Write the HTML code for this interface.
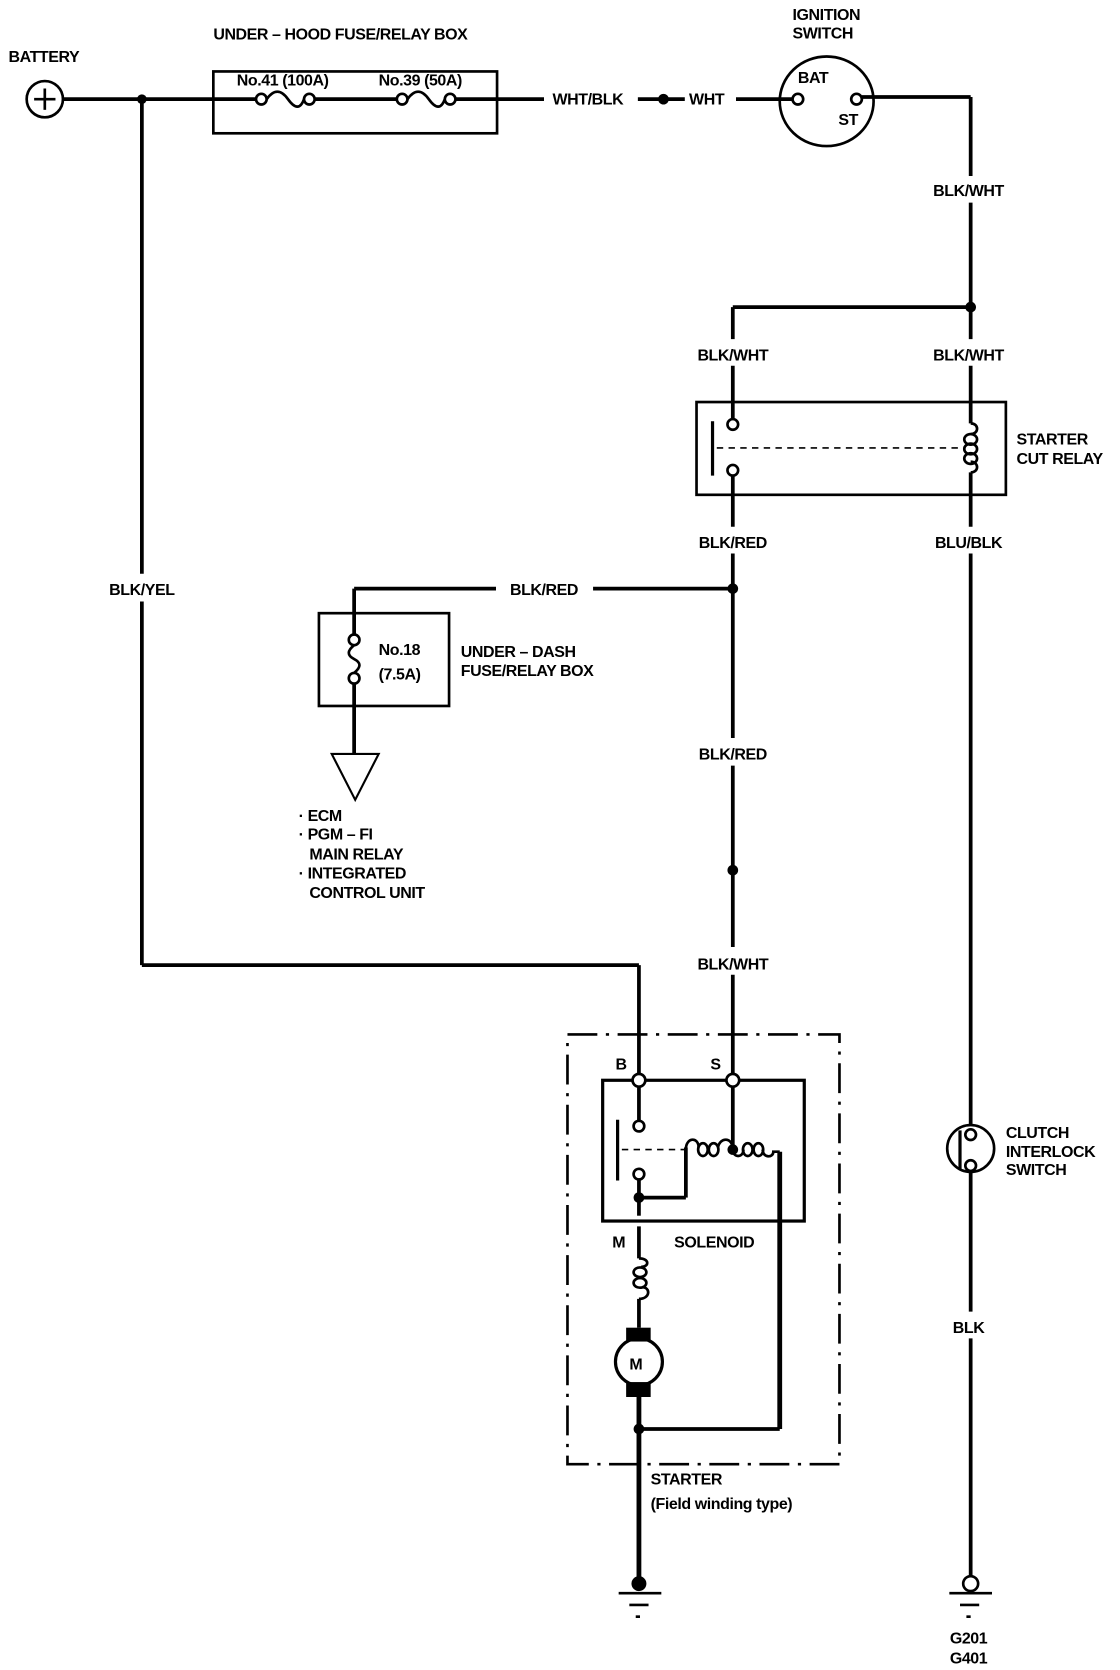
<!DOCTYPE html>
<html><head><meta charset="utf-8"><style>
html,body{margin:0;padding:0;background:#fff;}
svg{display:block;}
text{font-family:"Liberation Sans Narrow","Liberation Sans",sans-serif;font-weight:bold;font-size:15px;letter-spacing:-0.4px;fill:#000;}
</style></head><body>
<svg width="1120" height="1670" viewBox="0 0 1050 1566" preserveAspectRatio="none" xmlns="http://www.w3.org/2000/svg">
<g fill="none" stroke="#000" stroke-width="3.5">
<line x1="59" y1="93" x2="200" y2="93"/>
<line x1="200" y1="93" x2="240" y2="93"/>
<line x1="295" y1="93" x2="372" y2="93"/>
<line x1="427" y1="93" x2="510" y2="93"/>
<line x1="598" y1="93" x2="642" y2="93"/>
<line x1="690" y1="93" x2="743" y2="93"/>
<line x1="808" y1="91" x2="910" y2="91"/>
<line x1="910" y1="91" x2="910" y2="165"/>
<line x1="910" y1="190" x2="910" y2="318"/>
<line x1="910" y1="288" x2="687" y2="288"/>
<line x1="687" y1="288" x2="687" y2="318"/>
<line x1="687" y1="343" x2="687" y2="393"/>
<line x1="910" y1="343" x2="910" y2="397"/>
<line x1="687" y1="446" x2="687" y2="494"/>
<line x1="910" y1="443" x2="910" y2="494"/>
<line x1="687" y1="519" x2="687" y2="692"/>
<line x1="687" y1="718" x2="687" y2="888"/>
<line x1="687" y1="914" x2="687" y2="1008"/>
<line x1="910" y1="519" x2="910" y2="1055"/>
<line x1="910" y1="1099" x2="910" y2="1230"/>
<line x1="910" y1="1255" x2="910" y2="1479"/>
<line x1="687" y1="552" x2="556" y2="552"/>
<line x1="465" y1="552" x2="332" y2="552"/>
<line x1="332" y1="552" x2="332" y2="595"/>
<line x1="332" y1="641" x2="332" y2="707"/>
<line x1="133" y1="93" x2="133" y2="538"/>
<line x1="133" y1="564" x2="133" y2="905"/>
<line x1="133" y1="905" x2="599" y2="905"/>
<line x1="599" y1="905" x2="599" y2="1008"/>
<line x1="599" y1="1018" x2="599" y2="1051"/>
<line x1="599" y1="1106" x2="599" y2="1140"/>
<line x1="599" y1="1123" x2="643" y2="1123"/>
<line x1="643" y1="1123" x2="643" y2="1076"/>
<line x1="687" y1="1018" x2="687" y2="1078"/>
<line x1="731" y1="1080" x2="731" y2="1340" stroke-width="4.5"/>
<line x1="731" y1="1340" x2="599" y2="1340"/>
<line x1="599" y1="1150" x2="599" y2="1180"/>
<line x1="599" y1="1218" x2="599" y2="1245"/>
<line x1="599" y1="1310" x2="599" y2="1485" stroke-width="4.5"/>
</g>
<g fill="none" stroke="#000" stroke-width="2.5">
<circle cx="42" cy="93" r="17"/>
<line x1="32" y1="93" x2="52" y2="93"/><line x1="42" y1="83" x2="42" y2="103"/>
<rect x="200" y="67" width="266" height="58"/>
<circle cx="245" cy="93" r="5"/><circle cx="290" cy="93" r="5"/>
<path d="M250 93 q10 -14 20 0 q10 14 15 0"/>
<circle cx="377" cy="93" r="5"/><circle cx="422" cy="93" r="5"/>
<path d="M382 93 q10 -14 20 0 q10 14 15 0"/>
<ellipse cx="775" cy="95" rx="44" ry="42"/>
<circle cx="748" cy="93" r="5"/><circle cx="803" cy="93" r="5"/>
<rect x="653" y="377" width="290" height="87"/>
<circle cx="687" cy="398" r="5"/><circle cx="687" cy="441" r="5"/>
<line x1="668" y1="395" x2="668" y2="446" stroke-width="3"/>
<line x1="672" y1="420" x2="903" y2="420" stroke-dasharray="6 5" stroke-width="1.5"/>
<path d="M910 397 c8 0 8 10 0 10"/>
<ellipse cx="910" cy="412" rx="6" ry="5"/><ellipse cx="910" cy="421" rx="6" ry="5"/><ellipse cx="910" cy="430" rx="6" ry="5"/>
<path d="M910 433 c8 0 8 10 0 10"/>
<rect x="299" y="575" width="122" height="87"/>
<circle cx="332" cy="600" r="5"/><circle cx="332" cy="636" r="5"/>
<path d="M332 605 q-10 8 0 13 q10 5 0 13"/>
<path d="M311 707 L355 707 L333 750 Z" stroke-width="2"/>
<rect x="532" y="970" width="255" height="403" stroke-dasharray="28 8 3 8" stroke-width="2.5"/>
<rect x="565" y="1013" width="189" height="132" stroke-width="3"/>
<circle cx="599" cy="1013" r="6" fill="#fff"/><circle cx="687" cy="1013" r="6" fill="#fff"/>
<circle cx="599" cy="1056" r="5"/><circle cx="599" cy="1101" r="5"/>
<line x1="579" y1="1050" x2="579" y2="1107" stroke-width="3"/>
<line x1="583" y1="1078" x2="643" y2="1078" stroke-dasharray="6 5" stroke-width="1.5"/>
<path d="M643 1078 c0 -12 12 -12 12 -2"/>
<ellipse cx="659" cy="1078" rx="4.5" ry="6"/><ellipse cx="669" cy="1078" rx="4.5" ry="6"/>
<path d="M673 1076 c2 -10 14 -10 14 2"/>
<path d="M687 1078 c0 8 10 8 10 0"/>
<ellipse cx="701" cy="1078" rx="4.5" ry="6"/><ellipse cx="711" cy="1078" rx="4.5" ry="6"/>
<path d="M715 1078 c0 8 10 8 10 2 l6 0"/>
<path d="M599 1180 c10 0 10 8 2 8"/>
<ellipse cx="600" cy="1193" rx="6" ry="4.5"/><ellipse cx="600" cy="1203" rx="6" ry="4.5"/>
<path d="M602 1207 c8 0 8 11 -3 11"/>
<circle cx="599" cy="1277" r="22" stroke-width="3"/>
<circle cx="910" cy="1077" r="22"/>
<circle cx="910" cy="1064" r="5"/><circle cx="910" cy="1093" r="5"/>
<line x1="900" y1="1060" x2="900" y2="1096" stroke-width="3"/>
<circle cx="910" cy="1485" r="7"/>
<line x1="580" y1="1494" x2="620" y2="1494"/><line x1="590" y1="1505" x2="608" y2="1505"/><line x1="596" y1="1516" x2="600" y2="1516"/>
<line x1="890" y1="1494" x2="930" y2="1494"/><line x1="900" y1="1505" x2="918" y2="1505"/><line x1="906" y1="1516" x2="910" y2="1516"/>
</g>
<g fill="#000">
<circle cx="133" cy="93" r="4.5"/><circle cx="622" cy="93" r="5"/>
<circle cx="910" cy="288" r="5"/><circle cx="687" cy="552" r="5"/><circle cx="687" cy="816" r="5"/>
<circle cx="599" cy="1123" r="5"/><circle cx="687" cy="1078" r="5"/><circle cx="599" cy="1340" r="5"/>
<circle cx="599" cy="1485" r="7"/>
<rect x="587" y="1245" width="23" height="13"/><rect x="587" y="1296" width="23" height="14"/>
</g>
<text x="8" y="58">BATTERY</text>
<text x="200" y="37">UNDER – HOOD FUSE/RELAY BOX</text>
<text x="222" y="80">No.41 (100A)</text>
<text x="355" y="80">No.39 (50A)</text>
<text x="518" y="98">WHT/BLK</text>
<text x="646" y="98">WHT</text>
<text x="743" y="19">IGNITION</text>
<text x="743" y="36">SWITCH</text>
<text x="748" y="78">BAT</text>
<text x="786" y="117">ST</text>
<g text-anchor="middle">
<text x="908" y="184">BLK/WHT</text>
<text x="687" y="338">BLK/WHT</text>
<text x="908" y="338">BLK/WHT</text>
<text x="687" y="514">BLK/RED</text>
<text x="908" y="514">BLU/BLK</text>
<text x="510" y="558">BLK/RED</text>
<text x="133" y="558">BLK/YEL</text>
<text x="687" y="712">BLK/RED</text>
<text x="687" y="909">BLK/WHT</text>
<text x="908" y="1250">BLK</text>
<text x="908" y="1541">G201</text>
<text x="908" y="1560">G401</text>
</g>
<text x="953" y="417">STARTER</text>
<text x="953" y="435">CUT RELAY</text>
<text x="355" y="614">No.18</text>
<text x="355" y="637">(7.5A)</text>
<text x="432" y="616">UNDER – DASH</text>
<text x="432" y="634">FUSE/RELAY BOX</text>
<text x="280" y="770">· ECM</text>
<text x="280" y="787">· PGM – FI</text>
<text x="290" y="806">MAIN RELAY</text>
<text x="280" y="824">· INTEGRATED</text>
<text x="290" y="842">CONTROL UNIT</text>
<text x="577" y="1003">B</text>
<text x="666" y="1003">S</text>
<text x="574" y="1170">M</text>
<text x="632" y="1170">SOLENOID</text>
<text x="590" y="1284" font-size="17">M</text>
<text x="610" y="1392">STARTER</text>
<text x="610" y="1415" font-weight="normal">(Field winding type)</text>
<text x="943" y="1067">CLUTCH</text>
<text x="943" y="1085">INTERLOCK</text>
<text x="943" y="1102">SWITCH</text>
</svg>
</body></html>
